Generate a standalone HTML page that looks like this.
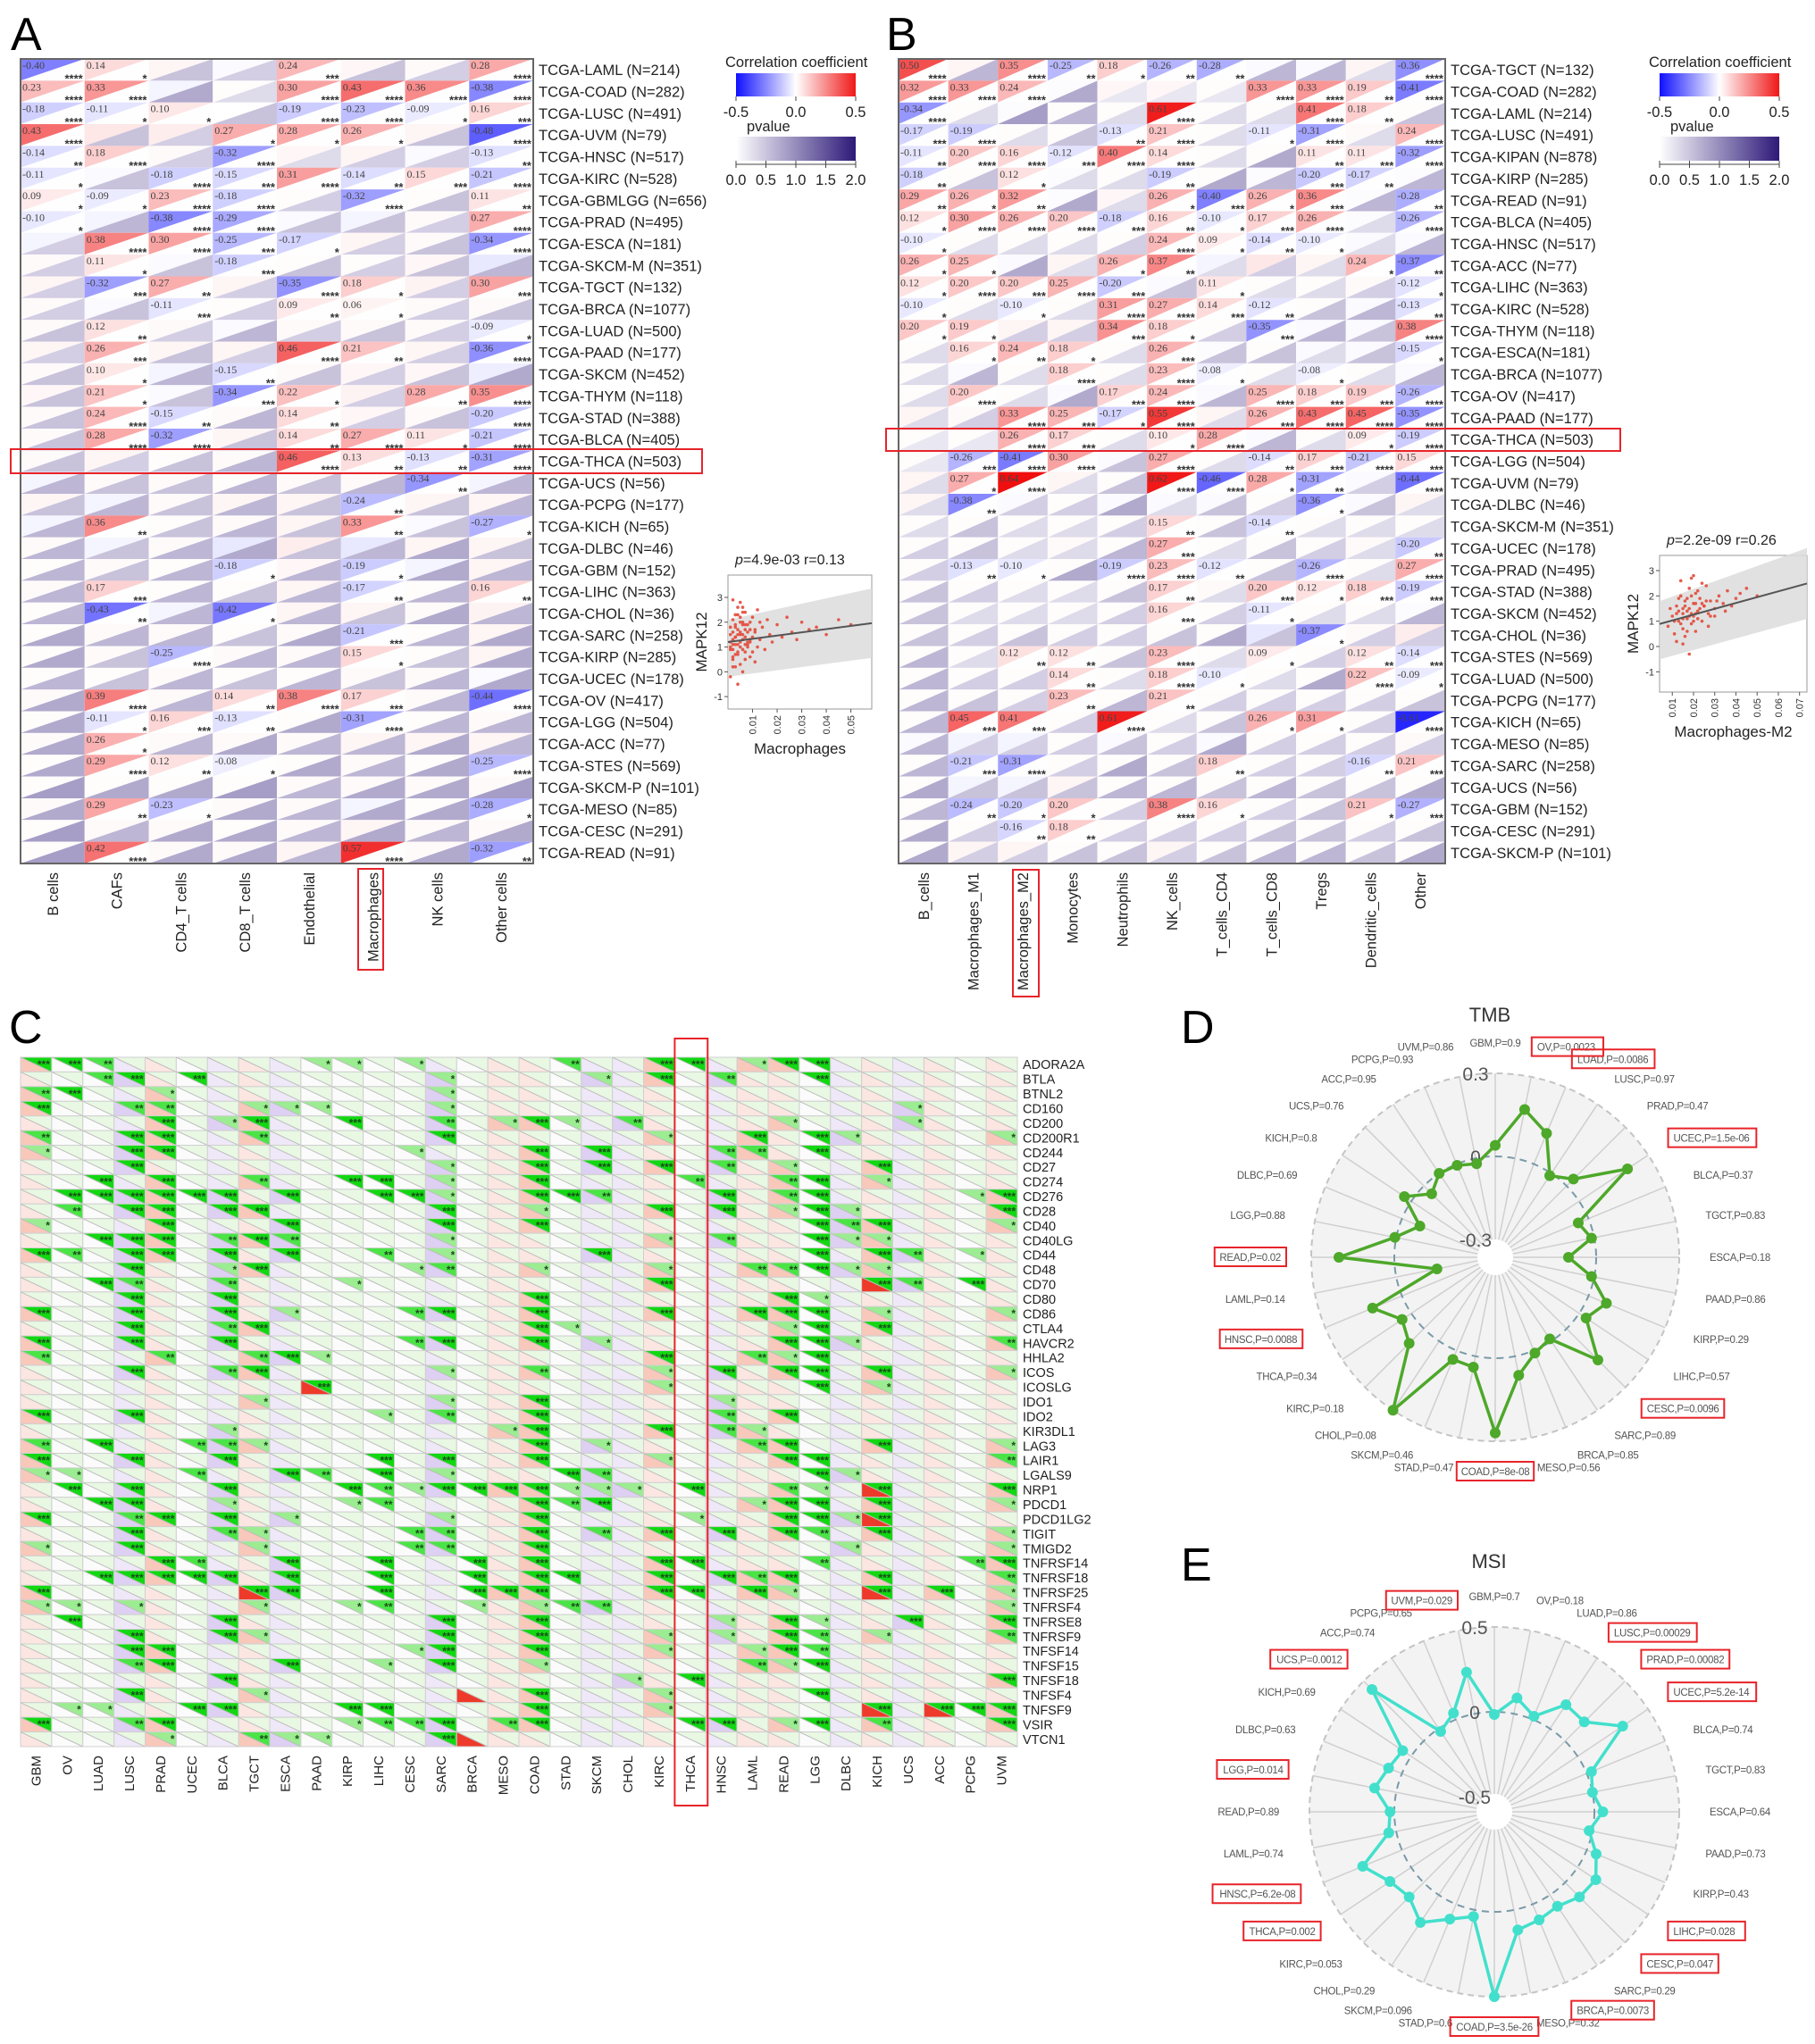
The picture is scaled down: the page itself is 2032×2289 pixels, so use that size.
<!DOCTYPE html>
<html><head><meta charset="utf-8"><style>
html,body{margin:0;padding:0;background:#fff}
svg{display:block;font-family:"Liberation Sans",sans-serif}
</style></head><body>
<svg id="fig" xmlns="http://www.w3.org/2000/svg" width="2032" height="2289" viewBox="0 0 2032 2289">
<defs>
<linearGradient id="gCorr" x1="0" x2="1" y1="0" y2="0"><stop offset="0" stop-color="#1010ff"/><stop offset="0.5" stop-color="#ffffff"/><stop offset="1" stop-color="#f01818"/></linearGradient>
<linearGradient id="gP" x1="0" x2="1" y1="0" y2="0"><stop offset="0" stop-color="#ffffff"/><stop offset="1" stop-color="#2d1978"/></linearGradient>
</defs>
<text x="12" y="56" font-size="52">A</text>
<text x="992" y="56" font-size="52">B</text>
<text x="10" y="1168" font-size="52">C</text>
<text x="1322" y="1168" font-size="52">D</text>
<text x="1322" y="1770" font-size="52">E</text>
</svg>
<script>
// ---------------- DATA ----------------
const colsA = ["B cells","CAFs","CD4_T cells","CD8_T cells","Endothelial","Macrophages","NK cells","Other cells"];
const rowsA = ["TCGA-LAML (N=214)","TCGA-COAD (N=282)","TCGA-LUSC (N=491)","TCGA-UVM (N=79)","TCGA-HNSC (N=517)","TCGA-KIRC (N=528)","TCGA-GBMLGG (N=656)","TCGA-PRAD (N=495)","TCGA-ESCA (N=181)","TCGA-SKCM-M (N=351)","TCGA-TGCT (N=132)","TCGA-BRCA (N=1077)","TCGA-LUAD (N=500)","TCGA-PAAD (N=177)","TCGA-SKCM (N=452)","TCGA-THYM (N=118)","TCGA-STAD (N=388)","TCGA-BLCA (N=405)","TCGA-THCA (N=503)","TCGA-UCS (N=56)","TCGA-PCPG (N=177)","TCGA-KICH (N=65)","TCGA-DLBC (N=46)","TCGA-GBM (N=152)","TCGA-LIHC (N=363)","TCGA-CHOL (N=36)","TCGA-SARC (N=258)","TCGA-KIRP (N=285)","TCGA-UCEC (N=178)","TCGA-OV (N=417)","TCGA-LGG (N=504)","TCGA-ACC (N=77)","TCGA-STES (N=569)","TCGA-SKCM-P (N=101)","TCGA-MESO (N=85)","TCGA-CESC (N=291)","TCGA-READ (N=91)"];
const dataA = [
"-0.40*4 0.14*1 0.05/5 -0.03/4 0.24*3 0.04/5 0.03/4 0.28*4",
"0.23*4 0.33*4 -0.05/7 0.02/3 0.30*4 0.43*4 0.36*4 -0.38*4",
"-0.18*4 -0.11*1 0.10*1 0.00/5 -0.19*4 -0.23*4 -0.09*1 0.16*3",
"0.43*4 0.10/5 0.08/4 0.27*1 0.28*1 0.26*1 0.05/5 -0.48*4",
"-0.14*2 0.18*4 0.03/4 -0.32*4 0.04/3 0.05/4 -0.03/4 -0.13*2",
"-0.11*1 -0.03/5 -0.18*4 -0.15*3 0.31*4 -0.14*2 0.15*3 -0.21*4",
"0.09*1 -0.09*1 0.23*4 -0.18*4 0.02/4 -0.32*4 0.02/5 0.11*2",
"-0.10*1 -0.05/6 -0.38*4 -0.29*4 -0.03/5 -0.05/5 0.03/4 0.27*4",
"-0.05/4 0.38*4 0.30*4 -0.25*3 -0.17*1 0.05/4 0.03/5 -0.34*4",
"0.03/4 0.11*1 -0.03/5 -0.18*3 0.02/5 0.02/4 0.04/5 -0.10/6",
"0.05/4 -0.32*3 0.27*2 0.05/4 -0.35*4 0.18*1 0.06/4 0.30*3",
"0.03/4 -0.03/5 -0.11*3 0.02/4 0.09*2 0.06*1 0.03/4 0.03/5",
"0.03/5 0.12*2 0.03/4 -0.03/6 0.03/4 0.03/5 0.03/4 -0.09*1",
"0.05/4 0.26*3 0.05/5 0.05/4 0.46*4 0.21*2 0.05/4 -0.36*4",
"0.03/5 0.10*1 -0.05/6 -0.15*2 0.03/5 0.04/4 0.04/5 -0.08/7",
"0.04/5 0.21*1 -0.03/5 -0.34*3 0.22*1 0.06/4 0.28*2 0.35*4",
"0.03/5 0.24*4 -0.15*2 0.03/6 0.14*2 0.04/4 0.03/5 -0.20*4",
"0.03/5 0.28*4 -0.32*4 0.05/5 0.14*2 0.27*4 0.11*1 -0.21*4",
"0.03/5 0.05/4 0.02/5 0.03/6 0.46*4 0.13*2 -0.13*2 -0.31*4",
"-0.05/6 0.03/5 0.03/5 0.02/6 0.03/5 0.03/6 -0.34*2 -0.05/6",
"0.05/5 -0.05/6 0.03/5 0.05/6 0.05/5 -0.24*2 0.05/5 0.05/6",
"-0.05/6 0.36*2 0.02/5 0.03/6 0.05/5 0.33*2 -0.03/5 -0.27*1",
"0.03/6 -0.05/5 0.03/6 -0.10/7 0.08/5 -0.10/6 0.05/7 0.05/5",
"0.02/6 0.03/5 0.02/6 -0.18*1 0.04/6 -0.19*1 -0.05/7 0.05/6",
"0.03/6 0.17*3 0.02/6 0.02/5 0.05/6 -0.17*2 0.02/6 0.16*2",
"0.02/6 -0.43*2 -0.05/6 -0.42*1 0.05/6 0.05/5 0.03/7 0.06/6",
"0.02/7 0.03/6 0.03/6 0.02/5 0.03/7 -0.21*3 0.02/6 0.05/7",
"0.02/7 0.03/5 -0.25*4 0.03/6 0.03/6 0.15*1 0.02/5 0.05/7",
"0.02/6 0.02/5 0.03/6 0.02/5 0.02/6 0.03/5 0.03/6 -0.03/7",
"0.03/7 0.39*4 0.03/6 0.14*2 0.38*4 0.17*3 0.03/6 -0.44*4",
"0.02/7 -0.11*1 0.16*3 -0.13*2 0.02/7 -0.31*4 0.02/6 0.03/6",
"0.03/7 0.26*1 0.03/6 0.03/7 0.03/6 0.05/6 0.05/7 0.05/6",
"0.02/7 0.29*4 0.12*2 -0.08*1 0.02/7 0.03/6 0.02/7 -0.25*4",
"0.02/8 0.02/7 0.02/7 0.02/8 0.03/6 0.03/7 0.03/7 0.03/8",
"0.03/7 0.29*2 -0.23*1 0.03/7 0.03/6 -0.05/7 0.02/7 -0.28*1",
"0.02/8 0.03/6 0.03/7 0.02/7 0.03/6 0.05/7 0.03/6 0.03/7",
"0.02/8 0.42*4 0.03/7 0.03/7 0.05/6 0.57*4 0.03/7 -0.32*2"];

const colsB = ["B_cells","Macrophages_M1","Macrophages_M2","Monocytes","Neutrophils","NK_cells","T_cells_CD4","T_cells_CD8","Tregs","Dendritic_cells","Other"];
const rowsB = ["TCGA-TGCT (N=132)","TCGA-COAD (N=282)","TCGA-LAML (N=214)","TCGA-LUSC (N=491)","TCGA-KIPAN (N=878)","TCGA-KIRP (N=285)","TCGA-READ (N=91)","TCGA-BLCA (N=405)","TCGA-HNSC (N=517)","TCGA-ACC (N=77)","TCGA-LIHC (N=363)","TCGA-KIRC (N=528)","TCGA-THYM (N=118)","TCGA-ESCA(N=181)","TCGA-BRCA (N=1077)","TCGA-OV (N=417)","TCGA-PAAD (N=177)","TCGA-THCA (N=503)","TCGA-LGG (N=504)","TCGA-UVM (N=79)","TCGA-DLBC (N=46)","TCGA-SKCM-M (N=351)","TCGA-UCEC (N=178)","TCGA-PRAD (N=495)","TCGA-STAD (N=388)","TCGA-SKCM (N=452)","TCGA-CHOL (N=36)","TCGA-STES (N=569)","TCGA-LUAD (N=500)","TCGA-PCPG (N=177)","TCGA-KICH (N=65)","TCGA-MESO (N=85)","TCGA-SARC (N=258)","TCGA-UCS (N=56)","TCGA-GBM (N=152)","TCGA-CESC (N=291)","TCGA-SKCM-P (N=101)"];
const dataB = [
"0.50*4 0.05/6 0.35*4 -0.25*2 0.18*1 -0.26*2 -0.28*2 -0.03/6 -0.03/6 0.05/3 -0.36*4",
"0.32*4 0.33*4 0.24*4 -0.02/7 0.04/2 0.04/2 0.02/2 0.33*4 0.33*4 0.19*2 -0.41*4",
"-0.34*4 0.02/3 -0.02/8 0.02/6 0.02/3 0.61*4 0.02/3 0.02/3 0.41*4 0.18*2 0.02/5",
"-0.17*3 -0.19*4 0.02/3 0.02/5 -0.13*2 0.21*4 0.02/3 -0.11*1 -0.31*4 0.03/3 0.24*4",
"-0.11*2 0.20*4 0.16*4 -0.12*3 0.40*4 0.14*4 0.02/3 0.02/7 0.11*2 0.11*3 -0.32*4",
"-0.18*2 0.02/5 0.12*1 -0.02/3 0.02/3 -0.19*2 0.02/7 -0.02/6 -0.20*3 -0.17*2 -0.02/6",
"0.29*2 0.26*1 0.32*2 -0.02/7 0.04/3 0.26*1 -0.40*3 0.26*1 0.36*3 -0.02/6 -0.28*2",
"0.12*1 0.30*4 0.26*4 0.20*4 -0.18*3 0.16*2 -0.10*1 0.17*3 0.26*4 -0.02/3 -0.26*4",
"-0.10*1 0.02/3 0.02/3 0.02/3 0.02/4 0.24*4 0.09*1 -0.14*2 -0.10*1 -0.03/3 -0.03/6",
"0.26*1 0.25*1 -0.03/7 0.05/3 0.26*1 0.37*2 -0.05/3 0.10/4 0.05/3 0.24*1 -0.37*2",
"0.12*1 0.20*4 0.20*3 0.25*4 -0.20*3 -0.03/5 0.11*1 0.02/3 0.02/3 0.03/4 -0.12*1",
"-0.10*1 0.02/3 -0.10*1 0.02/3 0.31*4 0.27*4 0.14*3 -0.12*2 0.02/5 -0.03/6 -0.13*2",
"0.20*1 0.19*1 0.05/4 0.05/4 0.34*3 0.18*1 0.02/4 -0.35*3 -0.03/6 -0.03/5 0.38*4",
"0.02/3 0.16*1 0.24*2 0.18*1 0.02/3 0.26*3 -0.02/5 0.02/5 -0.03/3 -0.03/5 -0.15*1",
"0.02/3 -0.03/6 0.02/3 0.18*4 0.02/3 0.23*4 -0.08*1 0.02/3 -0.08*1 0.02/3 -0.03/6",
"0.02/3 0.20*4 0.02/3 -0.03/7 0.17*3 0.24*4 -0.03/6 0.25*4 0.18*3 0.19*3 -0.26*4",
"0.05/3 0.03/4 0.33*4 0.25*3 -0.17*1 0.55*4 0.05/3 0.26*3 0.43*4 0.45*4 -0.35*4",
"0.02/2 0.02/2 0.26*4 0.17*3 0.02/3 0.10*1 0.28*4 -0.03/6 0.02/3 0.09*1 -0.19*4",
"0.02/2 -0.26*3 -0.41*4 0.30*4 -0.03/5 0.27*4 0.02/3 -0.14*2 0.17*3 -0.21*4 0.15*3",
"0.05/3 0.27*1 0.64*4 0.05/3 0.02/5 0.62*4 -0.46*4 0.28*1 -0.31*2 -0.03/4 -0.44*4",
"0.05/3 -0.38*2 -0.03/4 0.02/4 -0.03/7 -0.03/3 -0.03/5 0.02/4 -0.36*1 -0.03/5 0.05/3",
"0.02/3 0.02/5 0.02/3 0.02/3 0.02/4 0.15*2 0.02/5 -0.14*2 0.02/3 0.02/3 0.02/3",
"0.02/4 0.02/5 0.02/3 0.03/3 0.02/6 0.27*3 0.02/3 0.02/5 0.02/4 0.03/3 -0.20*2",
"0.02/4 -0.13*2 -0.10*1 0.02/7 -0.19*4 0.23*4 -0.12*2 0.02/5 -0.26*4 0.02/3 0.27*4",
"0.02/5 0.02/4 0.02/3 0.02/3 0.02/5 0.17*2 0.03/3 0.20*3 0.12*1 0.18*3 -0.19*3",
"0.02/5 0.02/3 0.02/3 0.02/3 0.02/4 0.16*3 0.02/4 -0.11*1 0.02/3 0.02/3 -0.02/6",
"0.02/5 0.02/4 0.02/5 0.02/4 0.02/4 0.02/5 0.02/7 -0.10/5 -0.37*1 0.03/4 0.08/4",
"0.02/6 0.02/3 0.12*2 0.12*2 0.02/5 0.23*4 0.02/3 0.09*1 0.02/4 0.12*2 -0.14*3",
"0.02/6 0.02/4 0.02/4 0.14*2 0.02/3 0.18*4 -0.10*1 0.02/3 0.02/7 0.22*4 -0.09*1",
"0.02/6 0.02/5 0.02/4 0.23*2 0.02/6 0.21*2 0.02/4 0.02/4 0.02/4 0.02/4 0.02/5",
"0.02/6 0.45*3 0.41*3 0.02/4 0.61*4 0.02/3 0.02/5 0.26*1 0.31*1 0.02/4 -0.61*4",
"-0.03/6 -0.05/4 -0.05/4 0.02/4 -0.03/5 0.02/4 -0.03/7 0.02/4 0.02/4 0.02/4 0.03/4",
"0.02/6 -0.21*3 -0.31*4 0.02/4 0.02/7 0.02/5 0.18*2 0.02/4 0.02/4 -0.16*2 0.21*3",
"0.02/7 -0.05/5 -0.05/5 0.05/5 0.02/6 0.02/6 0.02/5 0.02/6 0.02/5 0.02/5 0.02/7",
"0.02/6 -0.24*2 -0.20*1 0.20*1 0.02/4 0.38*4 0.16*1 0.02/4 0.02/5 0.21*1 -0.27*3",
"0.02/7 0.02/4 -0.16*2 0.18*2 0.02/4 0.02/4 0.02/4 0.02/5 0.02/5 0.02/4 0.02/5",
"0.02/7 0.05/4 0.05/4 0.02/5 0.02/5 0.05/4 0.02/5 0.02/6 0.02/6 0.02/5 0.02/7"];

const colsC = ["GBM","OV","LUAD","LUSC","PRAD","UCEC","BLCA","TGCT","ESCA","PAAD","KIRP","LIHC","CESC","SARC","BRCA","MESO","COAD","STAD","SKCM","CHOL","KIRC","THCA","HNSC","LAML","READ","LGG","DLBC","KICH","UCS","ACC","PCPG","UVM"];
const rowsC = ["ADORA2A","BTLA","BTNL2","CD160","CD200","CD200R1","CD244","CD27","CD274","CD276","CD28","CD40","CD40LG","CD44","CD48","CD70","CD80","CD86","CTLA4","HAVCR2","HHLA2","ICOS","ICOSLG","IDO1","IDO2","KIR3DL1","LAG3","LAIR1","LGALS9","NRP1","PDCD1","PDCD1LG2","TIGIT","TMIGD2","TNFRSF14","TNFRSF18","TNFRSF25","TNFRSF4","TNFRSE8","TNFRSF9","TNFSF14","TNFSF15","TNFSF18","TNFSF4","TNFSF9","VSIR","VTCN1"];
const starsC = [
"GBM3 OV3 LUAD2 PAAD1 KIRP1 CESC1 STAD2 KIRC3 THCA3 LAML1 READ3 LGG3",
"LUAD2 LUSC3 UCEC3 SARC1 SKCM1 KIRC3 HNSC2 LGG3",
"GBM2 OV3 PRAD1 SARC1",
"GBM3 LUSC2 PRAD2 TGCT1 ESCA1 PAAD1 SARC1 UCS1",
"PRAD3 BLCA1 TGCT3 KIRP3 SARC2 MESO1 COAD3 STAD1 CHOL2 READ1 UCS1",
"GBM2 LUSC3 PRAD3 TGCT2 SARC3 KIRC1 LAML3 LGG3 DLBC1 UVM1",
"GBM1 LUSC3 PRAD3 CESC1 COAD3 SKCM3 HNSC2 LAML2 LGG3",
"LUSC3 SARC1 COAD3 SKCM3 KIRC3 HNSC2 READ1 KICH3",
"LUAD3 PRAD3 TGCT2 KIRP3 LIHC3 SARC1 COAD3 THCA2 READ2 LGG3 KICH1",
"OV3 LUAD3 LUSC3 PRAD3 UCEC3 BLCA3 ESCA3 LIHC3 CESC3 SARC1 COAD3 STAD3 SKCM2 HNSC3 READ2 LGG3 PCPG1 UVM3",
"OV2 LUSC3 PRAD3 BLCA3 TGCT3 SARC3 COAD1 KIRC3 HNSC3 READ1 LGG3 DLBC1 UVM3",
"GBM1 PRAD3 ESCA3 SARC3 COAD3 LGG3 DLBC2 KICH3 UVM1",
"LUAD3 LUSC3 PRAD3 BLCA2 TGCT3 ESCA2 SARC1 KIRC1 HNSC2 LGG3 DLBC1 KICH1",
"GBM3 OV2 LUSC3 PRAD3 BLCA3 ESCA3 LIHC2 SARC1 SKCM3 LGG3 KICH3 UCS2 PCPG1",
"LUSC3 BLCA1 TGCT3 CESC1 SARC2 COAD1 KIRC1 LAML2 READ2 LGG3 DLBC1 KICH1",
"LUAD3 LUSC2 BLCA2 KIRP1 KIRC3 KICH3 UCS2 PCPG3",
"LUSC3 BLCA3 COAD3 READ3 LGG1",
"GBM3 LUSC3 BLCA3 ESCA1 CESC2 SARC3 COAD3 KIRC3 LAML3 READ3 LGG3 KICH1 UVM1",
"LUSC3 BLCA2 TGCT3 COAD3 STAD1 READ1 LGG3 KICH3",
"GBM3 LUSC3 BLCA3 CESC2 SARC3 COAD3 SKCM1 READ3 LGG3 DLBC1 UVM2",
"GBM2 PRAD2 TGCT2 ESCA3 PAAD1 KIRC3 LAML2 READ1 LGG3",
"LUSC3 BLCA2 TGCT3 SARC1 COAD2 KIRC1 HNSC3 READ3 LGG3 KICH3 UVM1",
"PAAD3 KIRC1 LGG3 KICH1",
"TGCT1 SARC1 COAD3 HNSC1",
"GBM3 LUSC3 LIHC1 SARC2 COAD3 HNSC2 READ3",
"BLCA1 MESO1 COAD3 KIRC3 HNSC2 LAML1",
"GBM2 LUAD3 UCEC2 BLCA2 TGCT1 COAD3 SKCM1 LAML2 READ3 KICH3 UVM1",
"GBM3 LUSC3 BLCA3 LIHC3 SARC3 COAD3 KIRC1 READ3 LGG3 UVM2",
"GBM1 OV1 UCEC2 ESCA3 PAAD2 LIHC3 SARC1 STAD3 SKCM2 LGG3 DLBC1",
"OV3 LUSC3 BLCA3 KIRP3 LIHC2 CESC1 SARC3 BRCA3 MESO3 COAD3 STAD1 SKCM1 CHOL1 THCA3 READ2 LGG1 KICH3 UVM3",
"LUAD3 LUSC3 BLCA1 KIRP1 LIHC2 COAD3 STAD2 SKCM3 LAML1 READ3 LGG3 KICH3 UVM1",
"GBM3 LUSC2 PRAD3 BLCA3 ESCA1 SARC1 COAD3 THCA1 READ3 LGG3 DLBC1 KICH3",
"LUSC3 BLCA2 TGCT1 CESC2 SARC2 COAD3 SKCM2 KIRC3 HNSC3 READ3 LGG2 KICH3 UVM1",
"GBM1 LUSC3 TGCT1 CESC2 SARC2 COAD3 DLBC1 UVM1",
"PRAD3 UCEC2 ESCA3 LIHC3 BRCA3 COAD3 KIRC3 THCA3 LGG2 PCPG2 UVM3",
"LUAD3 LUSC3 PRAD3 UCEC3 BLCA3 ESCA3 LIHC3 BRCA3 COAD3 STAD3 KIRC3 HNSC3 LAML2 READ3 KICH3 UVM2",
"GBM3 TGCT3 ESCA3 LIHC3 BRCA3 MESO3 COAD3 KIRC3 THCA3 LAML3 READ1 KICH3 ACC3 UVM1",
"GBM1 OV1 LUSC1 TGCT1 KIRP1 LIHC2 BRCA1 COAD1 STAD2 SKCM2 UVM1",
"OV3 BLCA3 SARC3 COAD3 HNSC1 READ3 LGG1 UCS3 UVM3",
"LUSC3 BLCA3 TGCT1 SARC3 COAD3 KIRC1 HNSC1 READ3 LGG2 KICH1 UVM2",
"LUSC3 PRAD3 CESC1 SARC3 COAD3 KIRC1 LAML1 READ3 LGG2",
"LUSC2 PRAD3 ESCA3 LIHC1 SARC3 COAD1 LAML2 READ1 LGG3",
"BLCA3 CHOL1 THCA3 UVM3",
"LUSC3 TGCT1 COAD3 KIRC1 LGG3",
"OV1 LUAD1 UCEC3 BLCA3 KIRP3 LIHC3 COAD3 KIRC1 KICH3 ACC3 PCPG3 UVM3",
"GBM3 LUSC2 PRAD3 KIRP1 LIHC2 CESC2 SARC3 MESO2 COAD3 THCA3 HNSC3 READ1 LGG3 KICH2 UVM3",
"PRAD1 TGCT2 ESCA1 PAAD1 SARC3"];
const toneC = "pwwvpwvpvwwwwvwppwvvpwvppwvpvpwp";
const strongC = ["KICH:NRP1","KICH:PDCD1LG2","KICH:TNFSF9","KICH:CD70","KICH:TNFRSF25","ACC:TNFSF9","PAAD:ICOSLG","TGCT:TNFRSF25","BRCA:VTCN1","BRCA:TNFSF4"];

const cancers = ["GBM","OV","LUAD","LUSC","PRAD","UCEC","BLCA","TGCT","ESCA","PAAD","KIRP","LIHC","CESC","SARC","BRCA","MESO","COAD","STAD","SKCM","CHOL","KIRC","THCA","HNSC","LAML","READ","LGG","DLBC","KICH","UCS","ACC","PCPG","UVM"];
const tmbVals = [0.04,0.18,0.12,-0.01,0.035,0.21,-0.04,-0.01,-0.10,-0.01,0.07,0.03,0.16,-0.01,0.01,0.07,0.27,0.04,0.035,0.30,0.075,0.04,0.115,-0.15,0.20,0.005,-0.07,0.03,-0.04,0.0,-0.005,-0.02];
const tmbP = ["0.9","0.0023","0.0086","0.97","0.47","1.5e-06","0.37","0.83","0.18","0.86","0.29","0.57","0.0096","0.89","0.85","0.56","8e-08","0.47","0.46","0.08","0.18","0.34","0.0088","0.14","0.02","0.88","0.69","0.8","0.76","0.95","0.93","0.86"];
const msiVals = [-0.016,0.095,0.02,0.17,0.16,0.32,0.03,0.0,0.05,-0.02,0.06,0.13,0.12,0.08,0.10,0.12,0.50,0.04,0.095,0.195,0.12,0.15,0.25,0.045,0.025,0.13,0.085,0.06,0.43,-0.02,0.04,0.25];
const msiP = ["0.7","0.18","0.86","0.00029","0.00082","5.2e-14","0.74","0.83","0.64","0.73","0.43","0.028","0.047","0.29","0.0073","0.32","3.5e-26","0.6","0.096","0.29","0.053","0.002","6.2e-08","0.74","0.89","0.014","0.63","0.69","0.0012","0.74","0.65","0.029"];

const scAx = [0.001,0.002,0.002,0.003,0.003,0.004,0.004,0.005,0.005,0.006,0.006,0.007,0.007,0.008,0.008,0.009,0.009,0.010,0.010,0.011,0.012,0.012,0.013,0.014,0.015,0.016,0.017,0.018,0.020,0.022,0.024,0.026,0.028,0.030,0.033,0.036,0.040,0.045,0.050,0.001,0.002,0.003,0.004,0.005,0.006,0.007,0.008,0.001,0.003,0.005,0.002,0.004,0.006,0.009,0.011,0.001,0.003,0.007,0.002,0.005,
0.001,0.002,0.003,0.004,0.005,0.006,0.007,0.008,0.009,0.010,0.001,0.002,0.003,0.004,0.005,0.006,0.007,0.008,0.002,0.004,0.006,0.003,0.005,0.007,0.011,0.013,0.009,0.002,0.004,0.006];
const scAy = [1.2,0.5,2.1,1.8,0.2,1.5,2.6,1.0,0.3,1.9,1.3,2.4,0.8,1.6,1.1,2.0,0.6,1.4,2.2,1.7,1.0,2.5,1.3,1.8,0.9,2.1,1.5,1.2,1.9,1.4,2.2,1.6,1.3,2.0,1.7,1.8,1.5,2.1,1.9,-0.2,2.9,1.1,-0.5,2.8,0.0,1.7,1.0,0.9,2.3,1.5,1.6,0.7,2.0,1.2,0.4,1.8,1.4,1.9,0.9,2.2,
1.0,1.3,0.7,1.1,1.6,0.9,1.4,1.2,1.7,0.8,1.5,0.6,1.9,2.3,1.2,2.6,0.5,1.9,1.1,0.8,1.5,1.4,2.0,1.1,1.6,2.0,1.3,0.2,1.7,2.4];
const fitA = [1.2, 13];
const scBx = [0.008,0.010,0.011,0.012,0.013,0.014,0.015,0.015,0.016,0.017,0.018,0.018,0.019,0.020,0.020,0.021,0.022,0.023,0.024,0.025,0.026,0.027,0.028,0.030,0.032,0.034,0.036,0.038,0.040,0.045,0.050,0.012,0.014,0.016,0.019,0.021,0.024,0.027,0.013,0.017,0.022,0.026,0.030,0.009,0.035,0.042,0.015,0.020,0.025,0.018,
0.011,0.013,0.015,0.017,0.019,0.021,0.023,0.014,0.016,0.018,0.020,0.022,0.024,0.012,0.019,0.017,0.021,0.015,0.028,0.031];
const scBy = [0.8,1.2,0.5,1.6,1.0,2.0,1.3,0.7,1.8,1.1,2.3,1.5,0.9,1.7,1.2,2.1,1.4,1.9,1.0,1.6,2.4,1.3,1.8,1.5,2.0,1.7,2.2,1.6,1.9,2.3,2.0,0.2,2.6,0.4,2.7,0.6,2.5,0.8,1.9,1.4,1.1,1.8,1.2,1.5,1.4,2.1,0.1,2.8,1.6,-0.3,
1.0,1.4,1.1,1.9,1.3,1.7,1.5,0.9,1.6,1.2,1.0,2.2,1.7,1.3,2.0,0.6,1.3,1.5,1.2,1.8];
const fitB = [0.8, 23];

// ---------------- HELPERS ----------------
const NS = "http://www.w3.org/2000/svg";
const svg = document.getElementById("fig");
function mk(tag, attrs, parent, txt) {
  const e = document.createElementNS(NS, tag);
  for (const k in attrs) e.setAttribute(k, attrs[k]);
  if (txt !== undefined) e.textContent = txt;
  (parent || svg).appendChild(e);
  return e;
}
function mix(c1, c2, t) { return "rgb(" + c1.map((v, i) => Math.round(v + (c2[i] - v) * t)).join(",") + ")"; }
function corrColor(r) {
  let t = Math.min(1, Math.abs(r) / 0.65); t = Math.pow(t, 1.25);
  return r >= 0 ? mix([255,255,255],[240,10,10],t) : mix([255,255,255],[20,20,255],t);
}
function pColor(p) { const t = Math.min(1, p / 2); return mix([255,255,255],[45,25,120],t); }

// ---------------- HEATMAPS A / B ----------------
function heat(x0, y0, x1, y1, rows, cols, data, key) {
  const g = mk("g", {});
  
  
  const cw = (x1 - x0) / cols.length, rh = (y1 - y0) / rows.length;
  rows.forEach((rn, i) => {
    const toks = data[i].split(" ");
    toks.forEach((tk, j) => {
      let r, stars = 0, p, lab = false;
      if (tk.indexOf("*") >= 0) { const a = tk.split("*"); r = parseFloat(a[0]); stars = parseInt(a[1]); p = 0.01; lab = true; }
      else { const a = tk.split("/"); r = parseFloat(a[0]); p = parseInt(a[1]) / 9 * 0.95; }
      const x = x0 + j * cw, y = y0 + i * rh;
      const up = mk("polygon", {points: `${x},${y} ${x+cw},${y} ${x},${y+rh}`, fill: corrColor(r)}, g);
      
      
      const lo = mk("polygon", {points: `${x+cw},${y} ${x+cw},${y+rh} ${x},${y+rh}`, fill: pColor(p)}, g);
      
      
      if (lab) {
        const t = mk("text", {x: x+2, y: y+11, "font-size": 12, fill: "#444", "font-family": "Liberation Serif, serif"}, g, r.toFixed(2));
        
        
        const s = mk("text", {x: x+cw-2, y: y+rh+2, "font-size": 13, "font-weight": "bold", fill: "#333", "text-anchor": "end"}, g, "*".repeat(stars));
        
        
      }
    });
    const rl = mk("text", {x: x1 + 6, y: y0 + i * rh + rh/2 + 6, "font-size": 16.5, fill: "#222"}, svg, rn);
    
    
  });
  const b = mk("rect", {x: x0, y: y0, width: x1-x0, height: y1-y0, fill: "none", stroke: "#666", "stroke-width": 2}, g);
  
  
  cols.forEach((cn, j) => {
    const cx = x0 + j * cw + cw/2 + 6;
    const t = mk("text", {x: cx, y: y1 + 10, "font-size": 16.5, fill: "#222", "text-anchor": "end", transform: `rotate(-90 ${cx} ${y1+10})`}, svg, cn);
    
    
  });
}
heat(23, 66, 597, 967, rowsA, colsA, dataA, "panel-a");
heat(1006, 66, 1618, 967, rowsB, colsB, dataB, "panel-b");

function box(x, y, w, h, name) {
  const r = mk("rect", {x, y, width: w, height: h, fill: "none", stroke: "#e8242a", "stroke-width": 2});
  
  
}
box(12, 503, 774, 27, "thca-highlight-a");
box(401, 973, 28, 113, "macrophages-highlight");
box(992, 480, 822, 25, "thca-highlight-b");
box(1134, 974, 29, 142, "macrophages-m2-highlight");

// ---------------- LEGENDS ----------------
function legend(ox, key) {
  const t1 = mk("text", {x: ox, y: 75, "font-size": 16.5, fill: "#222"}, svg, "Correlation coefficient");
   
  const b1 = mk("rect", {x: ox+12, y: 82, width: 134, height: 26, fill: "url(#gCorr)"});
   
  ["-0.5","0.0","0.5"].forEach((s, i) => {
    const x = ox + 12 + i * 67;
    mk("line", {x1: x, x2: x, y1: 108, y2: 113, stroke: "#444"});
    const t = mk("text", {x, y: 131, "font-size": 16.5, "text-anchor": "middle", fill: "#222"}, svg, s);
     
  });
  const t2 = mk("text", {x: ox+24, y: 147, "font-size": 16.5, fill: "#222"}, svg, "pvalue");
   
  const b2 = mk("rect", {x: ox+12, y: 153, width: 134, height: 27, fill: "url(#gP)"});
   
  mk("line", {x1: ox+12, x2: ox+146, y1: 184, y2: 184, stroke: "#444"});
  ["0.0","0.5","1.0","1.5","2.0"].forEach((s, i) => {
    const x = ox + 12 + i * 33.5;
    mk("line", {x1: x, x2: x, y1: 180, y2: 188, stroke: "#444"});
    const t = mk("text", {x, y: 207, "font-size": 16.5, "text-anchor": "middle", fill: "#222"}, svg, s);
     
  });
}
legend(812, "panel-a");
legend(1846, "panel-b");

// ---------------- SCATTERS ----------------
function scatter(cfg) {
  const {bx, by, bw, bh, xmin, xmax, ymin, ymax, xs, ys, fit, xt, yt, title, xl, key} = cfg;
  const sx = v => bx + (v - xmin) / (xmax - xmin) * bw;
  const sy = v => by + bh - (v - ymin) / (ymax - ymin) * bh;
  const fr = mk("rect", {x: bx, y: by, width: bw, height: bh, fill: "#fff", stroke: "#999"});
   
  const band = [];
  [xmin, xmax].forEach((x, k) => band.push(`${sx(x)},${sy(fit[0] + fit[1]*x + 0.9 + k*0.5)}`));
  [xmax, xmin].forEach((x, k) => band.push(`${sx(x)},${sy(fit[0] + fit[1]*x - 1.4)}`));
  const bd = mk("polygon", {points: band.join(" "), fill: "#dcdcdc", opacity: 0.85});
   
  xs.forEach((x, i) => {
    const c = mk("circle", {cx: sx(x), cy: sy(ys[i]), r: 1.8, fill: "#e34a3a", opacity: 0.9});
     
  });
  const fl = mk("line", {x1: sx(xmin), y1: sy(fit[0]+fit[1]*xmin), x2: sx(xmax), y2: sy(fit[0]+fit[1]*xmax), stroke: "#555", "stroke-width": 2});
   
  yt.forEach(v => {
    mk("line", {x1: bx-4, x2: bx, y1: sy(v), y2: sy(v), stroke: "#555"});
    const t = mk("text", {x: bx-6, y: sy(v)+4, "font-size": 11, "text-anchor": "end", fill: "#333"}, svg, String(v));
     
  });
  xt.forEach(v => {
    const x = sx(v);
    mk("line", {x1: x, x2: x, y1: by+bh, y2: by+bh+4, stroke: "#555"});
    const t = mk("text", {x: x+4, y: by+bh+7, "font-size": 11, "text-anchor": "end", fill: "#333", transform: `rotate(-90 ${x+4} ${by+bh+7})`}, svg, v.toFixed(2));
     
  });
  const tt = mk("text", {x: bx + 8, y: by - 12, "font-size": 16, fill: "#222"}, svg);
   
  mk("tspan", {"font-style": "italic"}, tt, "p");
  mk("tspan", {}, tt, title);
  const yl = mk("text", {x: bx-24, y: by+bh/2, "font-size": 17, "text-anchor": "middle", fill: "#222", transform: `rotate(-90 ${bx-24} ${by+bh/2})`}, svg, "MAPK12");
   
  const xlab = mk("text", {x: bx+bw/2, y: by+bh+50, "font-size": 17, "text-anchor": "middle", fill: "#222"}, svg, xl);
   
}
scatter({bx: 815, by: 644, bw: 161, bh: 150, xmin: 0, xmax: 0.0585, ymin: -1.5, ymax: 3.9, xs: scAx, ys: scAy, fit: fitA, xt: [0.01,0.02,0.03,0.04,0.05], yt: [3,2,1,0,-1], title: "=4.9e-03      r=0.13", xl: "Macrophages", key: "scatter-a"});
scatter({bx: 1858, by: 622, bw: 165, bh: 153, xmin: 0.004, xmax: 0.0735, ymin: -1.8, ymax: 3.6, xs: scBx, ys: scBy, fit: fitB, xt: [0.01,0.02,0.03,0.04,0.05,0.06,0.07], yt: [3,2,1,0,-1], title: "=2.2e-09      r=0.26", xl: "Macrophages-M2", key: "scatter-b"});

// ---------------- HEATMAP C ----------------
(function () {
  const x0 = 23, x1 = 1139, y0 = 1184, y1 = 1956;
  const cw = (x1 - x0) / colsC.length, rh = (y1 - y0) / rowsC.length;
  const g = mk("g", {});
  
  
  const greens = ["#e8f8e3", "#9cec92", "#4ae446", "#12d812"];
  rowsC.forEach((rn, i) => {
    const st = {};
    starsC[i].split(" ").forEach(tk => { const m = tk.match(/^([A-Z]+)(\d)$/); if (m) st[m[1]] = +m[2]; });
    colsC.forEach((cn, j) => {
      const x = x0 + j * cw, y = y0 + i * rh;
      const n = st[cn] || 0;
      const tone = toneC[j];
      const strong = strongC.indexOf(cn + ":" + rn) >= 0;
      let lc = tone === "p" ? (n ? "#f8c8bb" : "#fce6e1") : tone === "v" ? (n ? "#ddd0f3" : "#eee8f8") : "#fbfbfb";
      if (strong) lc = "#ee3a2a";
      const lo = mk("polygon", {points: `${x},${y} ${x+cw},${y+rh} ${x},${y+rh}`, fill: lc}, g);
      
      
      const up = mk("polygon", {points: `${x},${y} ${x+cw},${y} ${x+cw},${y+rh}`, fill: greens[n]}, g);
      
      
      mk("rect", {x, y, width: cw, height: rh, fill: "none", stroke: "#d0d0d0", "stroke-width": 1}, g);
      mk("line", {x1: x, y1: y, x2: x+cw, y2: y+rh, stroke: "#bdbdbd", "stroke-width": 1}, g);
      if (n) {
        const s = mk("text", {x: x+cw-2, y: y+12, "font-size": 12, "font-weight": "bold", fill: "#1a4a1a", "text-anchor": "end"}, g, "*".repeat(n));
        
        
      }
    });
    const rl = mk("text", {x: x1 + 6, y: y0 + i * rh + rh/2 + 5, "font-size": 14.5, fill: "#222"}, svg, rn);
    
    
  });
  colsC.forEach((cn, j) => {
    const cx = x0 + j * cw + cw/2 + 5;
    const t = mk("text", {x: cx, y: y1 + 10, "font-size": 15, fill: "#222", "text-anchor": "end", transform: `rotate(-90 ${cx} ${y1+10})`}, svg, cn);
    
    
  });
  box(x0 + 21*cw, 1163, cw + 2, 859, "thca-highlight-c");
})();

// ---------------- RADARS ----------------
function radar(cx, cy, R, vals, ps, lim, r0, color, title, ticks, key, titleY) {
  const rv = v => r0 + v / lim * (R - r0);
  const n = cancers.length;
  const g = mk("g", {});
  
  
  mk("circle", {cx, cy, r: R, fill: "#f3f3f3", stroke: "#c4c4c4", "stroke-width": 2, "stroke-dasharray": "7 5"}, g);
  for (let i = 0; i < n; i++) {
    const a = i / n * 2 * Math.PI;
    mk("line", {x1: cx + 20*Math.sin(a), y1: cy - 20*Math.cos(a), x2: cx + R*Math.sin(a), y2: cy - R*Math.cos(a), stroke: "#cfcfcf", "stroke-width": 1.5}, g);
  }
  mk("circle", {cx, cy, r: 20, fill: "#fff"}, g);
  mk("circle", {cx, cy, r: r0, fill: "none", stroke: "#7a9aa8", "stroke-width": 2, "stroke-dasharray": "8 6"}, g);
  ticks.forEach(tv => {
    const t = mk("text", {x: cx - 22, y: cy - rv(tv) + 8, "font-size": 21, fill: "#555", "text-anchor": "middle"}, g, String(tv));
    
    
  });
  const pts = vals.map((v, i) => { const a = i / n * 2 * Math.PI; return [cx + rv(v)*Math.sin(a), cy - rv(v)*Math.cos(a)]; });
  const poly = mk("polygon", {points: pts.map(p => p.join(",")).join(" "), fill: "none", stroke: color, "stroke-width": 3.5}, g);
  
  
  pts.forEach(p => {
    const c = mk("circle", {cx: p[0], cy: p[1], r: 6, fill: color}, g);
    
    
  });
  cancers.forEach((c, i) => {
    const a = i / n * 2 * Math.PI, s = Math.sin(a), co = Math.cos(a);
    const lr = R + 34;
    const x = cx + lr * s, y = cy - lr * co + 4;
    const anchor = s > 0.15 ? "start" : (s < -0.15 ? "end" : "middle");
    const label = c + ",P=" + ps[i];
    const t = mk("text", {x, y, "font-size": 11.5, fill: "#555", "text-anchor": anchor, "letter-spacing": "-0.3"}, g, label);
    
    
    if (parseFloat(ps[i]) < 0.05) {
      const w = label.length * 6.2 + 12;
      const bx = anchor === "start" ? x - 6 : anchor === "end" ? x - w + 6 : x - w/2;
      box(bx, y - 15, w, 21, "significant-label-box");
    }
  });
  const tt = mk("text", {x: cx - 6, y: titleY, "font-size": 22, fill: "#333", "text-anchor": "middle"}, svg, title);
  
  
}
radar(1674, 1408, 206, tmbVals, tmbP, 0.3, 113, "#4ea82a", "TMB", [0.3, 0, -0.3], "tmb", 1144);
radar(1673, 2029, 207, msiVals, msiP, 0.5, 112, "#42e0cc", "MSI", [0.5, 0, -0.5], "msi", 1756);
</script>
</body></html>
